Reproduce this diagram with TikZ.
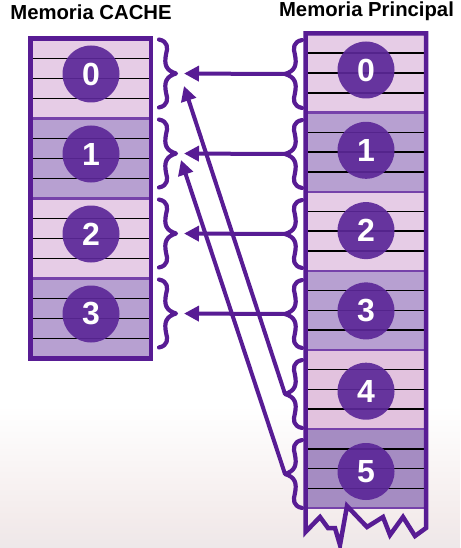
\documentclass[tikz,border=0pt]{standalone}
\usepackage{fontspec}
\setmainfont{Liberation Sans}
\usetikzlibrary{arrows.meta}
\definecolor{frame}{RGB}{88,28,148}
\definecolor{circ}{RGB}{92,40,152}
\definecolor{lite}{RGB}{230,204,230}
\definecolor{med}{RGB}{183,160,209}
\definecolor{liteb}{RGB}{226,194,222}
\definecolor{medb}{RGB}{165,140,194}
\definecolor{sep}{RGB}{118,66,170}
\definecolor{bgB}{RGB}{192,184,190}
\definecolor{bgC}{RGB}{214,214,220}
\definecolor{bgD}{RGB}{244,236,236}
\pgfdeclareverticalshading{bgshade}{100bp}{color(0bp)=(bgB); color(14bp)=(bgC); color(28bp)=(bgD); color(38bp)=(white); color(100bp)=(white)}
\tikzset{
  framestyle/.style={draw=frame, line width=4.5pt, line join=miter},
  rowline/.style={draw=black, line width=1.6pt},
  sepline/.style={draw=sep, line width=2.4pt},
  numcirc/.style={circle, minimum size=57pt, inner sep=0pt, fill=circ, fill opacity=0.92, text opacity=1, text=white, font=\bfseries\fontsize{32}{32}\selectfont},
  title/.style={font=\bfseries\fontsize{20.3}{22}\selectfont, anchor=base, inner sep=0pt},
  bracestyle/.style={draw=frame, line width=4.2pt, line cap=round, line join=round},
  arr/.style={draw=frame, line width=4pt, -{Triangle[length=15pt,width=15pt]}},
  cbrace/.pic={
    \draw[bracestyle] (0,0) .. controls (9,2) and (9,8) .. (7,15)
      .. controls (5,25) and (7,31) .. (17,34)
      .. controls (7,37) and (5,43) .. (7,53)
      .. controls (9,60) and (9,66) .. (0,68);
    \coordinate (-tip) at (17,34);
  }
}
\begin{document}
\begin{tikzpicture}[x=1pt,y=-1pt]
\useasboundingbox (0,0) rectangle (460,548);
\shade[shading=bgshade] (0,0) rectangle (460,548);

% titles
\node[title] (tcache) at (91,20) {Memoria CACHE};
\node[title] (tmain) at (366.5,17) {Memoria Principal};

% cache blocks
\foreach \k/\c in {0/lite,1/med,2/lite,3/med}{
  \fill[\c] (30.5,38.5+80*\k) rectangle (151,118.5+80*\k);
  \foreach \r in {20,40,60}{
    \draw[rowline] (32,38.5+80*\k+\r) -- (149.5,38.5+80*\k+\r);
  }
}
\foreach \k in {1,2,3}{
  \draw[sepline] (32,38.5+80*\k) -- (149.5,38.5+80*\k);
}
\draw[framestyle] (30.5,38.5) rectangle (151,358.5);

% main blocks
\foreach \k/\c in {0/lite,1/med,2/lite,3/med,4/liteb,5/medb}{
  \fill[\c] (306,33.5+79.1*\k) rectangle (426,112.6+79.1*\k);
  \foreach \r in {0.25,0.5,0.75}{
    \draw[rowline] (307.5,33.5+79.1*\k+79.1*\r) -- (424.5,33.5+79.1*\k+79.1*\r);
  }
}
\foreach \k in {1,2,3,4,5,6}{
  \draw[sepline] (307.5,33.5+79.1*\k) -- (424.5,33.5+79.1*\k);
}
\draw[framestyle] (305.5,532) -- (305.5,33.5) -- (426,33.5) -- (426,528)
  -- (415,536) -- (403,517) -- (390,535) -- (383,517) -- (367,527)
  -- (347,506) -- (340,545) -- (335,528) -- (328,528) -- (320,517) -- cycle;

% circles
\foreach \k in {0,1,2,3}{
  \node[numcirc] (cc\k) at (91,74+80*\k) {\k};
}
\foreach \k in {0,...,5}{
  \node[numcirc] (mc\k) at (366,70+80.3*\k) {\k};
}

% braces
\foreach \k in {0,1,2,3}{
  \pic (c\k) at (159,39.5+80*\k) {cbrace};
}
\foreach \k in {0,...,5}{
  \pic[xscale=-1] (m\k) at (302,40+80*\k) {cbrace};
}

% arrows
\foreach \k in {0,1,2,3}{
  \draw[arr, shorten >=8pt] (m\k-tip) -- (c\k-tip);
}
\coordinate (d0) at (184,86);
\coordinate (d1) at (181,160);
\draw[arr] (m4-tip) -- (d0);
\draw[arr] (m5-tip) -- (d1);
\end{tikzpicture}
\end{document}
